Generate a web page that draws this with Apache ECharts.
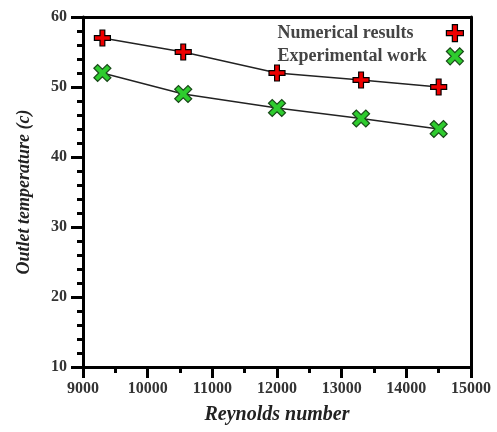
<html>
<head>
    <meta charset="utf-8">
    <script src="https://cdn.jsdelivr.net/npm/echarts@6/dist/echarts.min.js"></script>
</head>
<body style="margin:0">
<div id="main" style="width: 497px;height:432px;"></div>
<script>
    // Reynolds number vs outlet temperature
    var reynolds = [9300, 10550, 12000, 13300, 14500];
    var numerical = [57, 55, 52, 51, 50];
    var experimental = [52, 49, 47, 45.5, 44];
    var seriesNames = ['Numerical results', 'Experimental work'];

    var serif = 'Liberation Serif, Times New Roman, serif';
    var plusPath = 'path://M3.5,0 H6.5 V3.5 H10 V6.5 H6.5 V10 H3.5 V6.5 H0 V3.5 H3.5 Z';
    var crossPath = 'path://M0,2.2 L2.2,0 L5,2.8 L7.8,0 L10,2.2 L7.2,5 L10,7.8 L7.8,10 L5,7.2 L2.2,10 L0,7.8 L2.8,5 Z';
    var plusStyle = {color: '#ee0000', borderColor: '#000', borderWidth: 1.2};
    var crossStyle = {color: '#2ecc2e', borderColor: '#1a4a1a', borderWidth: 1.2};

    function pairs(xs, ys) {
        return xs.map(function (x, i) { return [x, ys[i]]; });
    }

    var myChart = echarts.init(document.getElementById('main'));
    var axisLine = {show: true, lineStyle: {color: '#000', width: 3}};

    option = {
        animation: false,
        grid: {left: 83, right: 26, top: 17, bottom: 65},
        legend: {
            orient: 'vertical',
            right: 28,
            top: 19,
            align: 'right',
            itemWidth: 17,
            itemHeight: 17,
            itemGap: 5,
            data: [
                {name: seriesNames[0], icon: plusPath, itemStyle: plusStyle},
                {name: seriesNames[1], icon: crossPath, itemStyle: crossStyle}
            ],
            formatter: function (name) { return '{t|' + name + '}'; },
            textStyle: {
                rich: {
                    t: {
                        fontFamily: serif,
                        fontWeight: 'bold',
                        fontSize: 18,
                        color: '#444',
                        width: 164,
                        align: 'left'
                    }
                }
            }
        },
        xAxis: [{
            type: 'value',
            min: 9000,
            max: 15000,
            interval: 1000,
            name: 'Reynolds number',
            nameLocation: 'middle',
            nameGap: 38,
            nameTextStyle: {fontFamily: serif, fontWeight: 'bold', fontStyle: 'italic', fontSize: 20, color: '#222'},
            axisLine: axisLine,
            axisTick: {show: true, length: 11, lineStyle: {color: '#000', width: 3}},
            minorTick: {show: true, splitNumber: 2, length: 6, lineStyle: {color: '#000', width: 3}},
            axisLabel: {
                fontFamily: serif, fontWeight: 'bold', fontSize: 16, color: '#333', margin: 14,
                formatter: function (v) { return String(v); }
            },
            splitLine: {show: false}
        }, {
            type: 'value',
            position: 'top',
            min: 9000,
            max: 15000,
            axisLine: axisLine,
            axisTick: {show: false},
            axisLabel: {show: false},
            splitLine: {show: false}
        }],
        yAxis: [{
            type: 'value',
            min: 10,
            max: 60,
            interval: 10,
            name: 'Outlet temperature (c)',
            nameLocation: 'middle',
            nameGap: 50,
            nameTextStyle: {fontFamily: serif, fontWeight: 'bold', fontStyle: 'italic', fontSize: 18, color: '#222'},
            axisLine: axisLine,
            axisTick: {show: true, length: 12, lineStyle: {color: '#000', width: 3}},
            minorTick: {show: true, splitNumber: 5, length: 6, lineStyle: {color: '#000', width: 3}},
            axisLabel: {fontFamily: serif, fontWeight: 'bold', fontSize: 16, color: '#333', margin: 16},
            splitLine: {show: false}
        }, {
            type: 'value',
            position: 'right',
            min: 10,
            max: 60,
            axisLine: axisLine,
            axisTick: {show: false},
            axisLabel: {show: false},
            splitLine: {show: false}
        }],
        series: [
            {
                name: seriesNames[0],
                type: 'line',
                data: pairs(reynolds, numerical),
                symbol: plusPath,
                symbolSize: 16,
                itemStyle: plusStyle,
                lineStyle: {color: '#222', width: 1.3}
            },
            {
                name: seriesNames[1],
                type: 'line',
                data: pairs(reynolds, experimental),
                symbol: crossPath,
                symbolSize: 17,
                itemStyle: crossStyle,
                lineStyle: {color: '#222', width: 1.3}
            }
        ]
    };

    myChart.setOption(option);
</script>
</body>
</html>
